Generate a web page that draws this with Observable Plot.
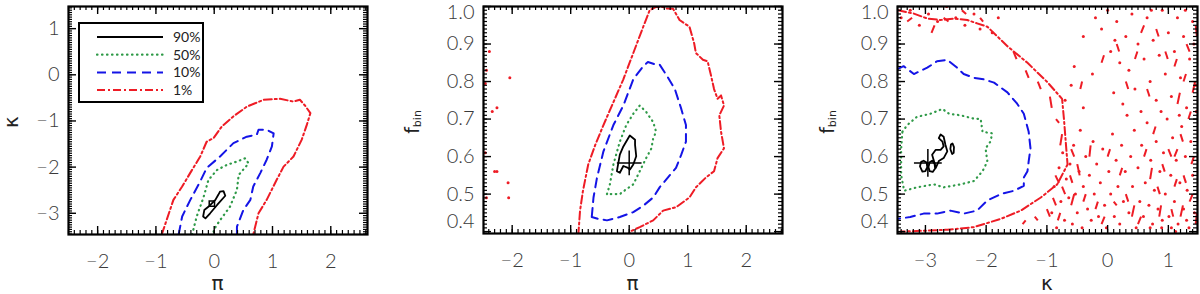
<!DOCTYPE html>
<html><head><meta charset="utf-8">
<script src="https://cdn.jsdelivr.net/npm/d3@7"></script>
<script src="https://cdn.jsdelivr.net/npm/@observablehq/plot@0.6"></script>
<style>
body{margin:0;background:#fff;}
#wrap{position:relative;width:1200px;height:294px;overflow:hidden;background:#fff;}
.panel{position:absolute;top:0;width:400px;height:294px;}
.ttl{position:absolute;font-family:"DejaVu Sans",sans-serif;color:#222;white-space:nowrap;line-height:1;}
</style></head>
<body><div id="wrap"></div>
<script>
// ---------- tick labels ----------
const piTicks = [-2, -1, 0, 1, 2];
const kappaTicks = [-3, -2, -1, 0, 1];
const fbinTicks = [0.4, 0.5, 0.6, 0.7, 0.8, 0.9, 1.0];
const legendLabels = ["90%", "50%", "10%", "1%"];

// ---------- panel 1 : pi vs kappa ----------
const p1_red = [[-0.90,-3.46],[-0.70,-2.71],[-0.55,-2.42],[-0.38,-2.06],[-0.24,-1.77],[-0.13,-1.45],[-0.01,-1.37],[0.13,-1.12],[0.33,-0.90],[0.56,-0.69],[0.85,-0.54],[1.13,-0.52],[1.36,-0.58],[1.47,-0.54],[1.56,-0.67],[1.65,-0.83],[1.59,-1.08],[1.50,-1.41],[1.36,-1.77],[1.19,-1.99],[1.07,-2.28],[0.90,-2.71],[0.76,-3.00],[0.67,-3.46]];
const p1_blue = [[-0.61,-3.46],[-0.55,-3.07],[-0.41,-2.71],[-0.24,-2.31],[-0.13,-2.02],[0.10,-1.77],[0.33,-1.48],[0.56,-1.34],[0.73,-1.30],[0.76,-1.19],[0.90,-1.19],[1.02,-1.27],[0.99,-1.55],[0.90,-1.84],[0.79,-2.13],[0.67,-2.42],[0.62,-2.71],[0.50,-2.93],[0.39,-3.29],[0.39,-3.46]];
const p1_green = [[-0.38,-3.46],[-0.30,-3.07],[-0.18,-2.64],[-0.10,-2.28],[0.05,-2.06],[0.22,-1.95],[0.39,-1.88],[0.53,-1.81],[0.59,-1.92],[0.42,-2.17],[0.39,-2.49],[0.27,-2.86],[0.10,-3.15],[-0.01,-3.36],[-0.01,-3.46]];
const p1_black = [[0.10,-2.53],[0.16,-2.52],[0.19,-2.62],[0.05,-2.82],[-0.07,-3.00],[-0.15,-3.11],[-0.19,-3.07],[-0.17,-2.93],[-0.10,-2.86],[0.02,-2.71],[0.07,-2.60],[0.10,-2.53]];
const p1_best = [[-0.04,-2.79]];

// ---------- panel 2 : pi vs f_bin ----------
const p2_red = [[-0.87,0.39],[-0.84,0.456],[-0.79,0.509],[-0.70,0.579],[-0.58,0.631],[-0.44,0.684],[-0.27,0.745],[-0.10,0.806],[0.07,0.876],[0.24,0.946],[0.35,0.99],[0.46,0.999],[0.58,0.999],[0.63,0.995],[0.75,0.994],[0.86,0.964],[1.03,0.946],[1.11,0.902],[1.14,0.876],[1.26,0.858],[1.34,0.854],[1.40,0.815],[1.45,0.78],[1.51,0.754],[1.57,0.763],[1.62,0.736],[1.54,0.71],[1.57,0.666],[1.62,0.622],[1.51,0.596],[1.45,0.561],[1.31,0.544],[1.14,0.518],[1.03,0.491],[0.80,0.465],[0.58,0.456],[0.41,0.43],[0.18,0.412],[0.01,0.40],[0.0,0.39]];
const p2_redDots = [[-2.44,0.83],[-2.39,0.88],[-2.46,0.795],[-2.34,0.72],[-2.26,0.73],[-2.04,0.81],[-2.30,0.56],[-2.26,0.56],[-2.44,0.49],[-2.07,0.53],[-2.06,0.49],[-2.46,0.61],[2.61,0.75]];
const p2_blue = [[-0.64,0.439],[-0.61,0.491],[-0.55,0.544],[-0.44,0.614],[-0.27,0.684],[-0.10,0.736],[0.07,0.806],[0.24,0.841],[0.32,0.852],[0.44,0.846],[0.52,0.845],[0.63,0.819],[0.78,0.78],[0.89,0.727],[0.97,0.684],[0.97,0.64],[0.89,0.605],[0.80,0.57],[0.66,0.544],[0.52,0.518],[0.41,0.491],[0.24,0.469],[0.07,0.452],[-0.16,0.439],[-0.38,0.43],[-0.53,0.434],[-0.64,0.439]];
const p2_green = [[-0.38,0.50],[-0.33,0.526],[-0.27,0.579],[-0.16,0.64],[-0.05,0.684],[0.07,0.714],[0.18,0.736],[0.29,0.719],[0.41,0.692],[0.46,0.666],[0.41,0.649],[0.38,0.622],[0.29,0.596],[0.18,0.561],[0.07,0.526],[-0.05,0.513],[-0.16,0.50],[-0.27,0.50],[-0.38,0.50]];
const p2_black = [[-0.19,0.579],[-0.21,0.561],[-0.16,0.557],[-0.10,0.575],[-0.02,0.57],[0.01,0.565],[0.07,0.579],[0.12,0.601],[0.10,0.631],[0.10,0.645],[0.01,0.656],[-0.05,0.64],[-0.10,0.627],[-0.16,0.605],[-0.19,0.579]];
const p2_best = [[0.0,0.583]];

// ---------- panel 3 : kappa vs f_bin ----------
const p3_red = [[-3.45,0.99],[-3.19,0.981],[-2.97,0.968],[-2.75,0.964],[-2.53,0.968],[-2.31,0.964],[-2.15,0.955],[-1.98,0.946],[-1.65,0.894],[-1.32,0.85],[-0.99,0.798],[-0.75,0.754],[-0.72,0.702],[-0.69,0.64],[-0.66,0.579],[-0.83,0.526],[-1.10,0.491],[-1.43,0.456],[-1.76,0.434],[-2.20,0.412],[-2.64,0.405],[-3.08,0.402],[-3.41,0.40]];
const p3_redDots = [[-0.92,0.45],[-0.88,0.52],[-0.84,0.41],[-0.80,0.57],[-0.77,0.48],[-0.74,0.61],[-0.71,0.43],[-0.68,0.54],[-0.64,0.49],[-0.62,0.58],[-0.58,0.42],[-0.56,0.63],[-0.53,0.50],[-0.50,0.45],[-0.47,0.56],[-0.45,0.67],[-0.42,0.41],[-0.40,0.52],[-0.36,0.60],[-0.33,0.46],[-0.30,0.55],[-0.27,0.43],[-0.24,0.64],[-0.22,0.50],[-0.18,0.58],[-0.15,0.44],[-0.12,0.53],[-0.08,0.62],[-0.05,0.47],[-0.02,0.41],[0.02,0.56],[0.05,0.50],[0.08,0.66],[0.11,0.44],[0.14,0.59],[0.17,0.52],[0.20,0.42],[0.23,0.63],[0.26,0.48],[0.29,0.56],[0.32,0.71],[0.35,0.45],[0.38,0.60],[0.41,0.52],[0.44,0.67],[0.47,0.41],[0.50,0.57],[0.53,0.48],[0.56,0.63],[0.59,0.44],[0.62,0.53],[0.65,0.69],[0.68,0.47],[0.71,0.59],[0.74,0.42],[0.77,0.51],[0.80,0.64],[0.83,0.46],[0.86,0.56],[0.89,0.41],[0.92,0.61],[0.95,0.50],[0.98,0.70],[1.01,0.44],[1.04,0.55],[1.07,0.65],[1.10,0.48],[1.13,0.59],[1.16,0.42],[1.19,0.53],[1.22,0.68],[1.25,0.46],[1.28,0.60],[1.31,0.51],[1.34,0.41],[1.37,0.64],[1.40,0.55],[1.43,0.45],[1.46,0.72],[1.12,0.40],[0.90,0.43],[1.30,0.43],[1.05,0.41],[0.70,0.41],
 [-0.70,0.75],[-0.60,0.79],[-0.55,0.84],[-0.40,0.73],[-0.25,0.82],[-0.10,0.94],[0.00,0.99],[0.05,0.88],[0.10,0.77],[0.15,0.96],[0.20,0.85],[0.25,0.74],[0.30,0.92],[0.35,0.83],[0.40,0.98],[0.45,0.78],[0.50,0.90],[0.55,0.72],[0.60,0.86],[0.65,0.97],[0.70,0.80],[0.75,0.91],[0.80,0.75],[0.85,0.87],[0.90,0.99],[0.95,0.82],[1.00,0.93],[1.05,0.76],[1.10,0.88],[1.15,0.97],[1.20,0.81],[1.25,0.92],[1.30,0.73],[1.35,0.86],[1.40,0.96],[1.45,0.79],[1.18,0.71],[0.88,0.72],[1.42,0.90],[0.72,0.99],[1.28,0.99],[-0.20,0.97],[0.12,0.91],[-0.40,0.92],
 [-3.40,0.97],[-3.25,0.99],[-3.10,0.95],[-2.95,0.98],[-2.80,0.96],[-2.65,1.00],[-2.50,0.97],[-2.35,0.95],[-2.20,0.98],[-2.10,0.94],[-1.90,0.93],[-1.80,0.97]];
const p3_redDashes = [[-0.86,0.55,-0.80,0.53],[-0.60,0.47,-0.55,0.50],[-0.30,0.60,-0.28,0.63],[0.10,0.48,0.15,0.47],[0.40,0.44,0.44,0.47],[0.60,0.60,0.64,0.62],[0.82,0.52,0.86,0.50],[1.00,0.62,1.05,0.60],[1.20,0.44,1.24,0.47],[1.38,0.58,1.42,0.60],[1.15,0.74,1.19,0.77],[0.95,0.88,0.99,0.86],[0.55,0.93,0.60,0.95],[0.30,0.80,0.34,0.78],[1.30,0.90,1.35,0.88],[-0.45,0.78,-0.42,0.80],[0.75,0.66,0.79,0.68],[1.40,0.77,1.44,0.80],[-3.30,0.96,-3.22,0.97],[-2.70,0.97,-2.62,0.96],[-2.40,0.99,-2.33,0.98],[0.20,0.55,0.24,0.57],[-0.10,0.42,-0.05,0.44],[1.10,0.52,1.14,0.54],
 [-1.55,0.88,-1.50,0.86],[-1.35,0.83,-1.30,0.81],[-1.15,0.80,-1.10,0.78],[-0.95,0.76,-0.92,0.73],[-0.85,0.70,-0.80,0.69],[-0.75,0.66,-0.78,0.63],[-0.60,0.62,-0.55,0.60],[-0.62,0.55,-0.58,0.53],[-0.75,0.52,-0.70,0.50],[-0.90,0.49,-0.85,0.47],[-1.00,0.46,-0.95,0.44],[-0.82,0.43,-0.78,0.45],[-1.20,0.44,-1.15,0.43],[-1.40,0.42,-1.35,0.43],[-0.50,0.58,-0.46,0.55],[-0.40,0.48,-0.36,0.50],[-0.20,0.46,-0.16,0.48],[0.00,0.60,0.04,0.62],[0.30,0.50,0.34,0.48],[0.50,0.42,0.55,0.44],[0.70,0.54,0.73,0.57],[0.90,0.58,0.94,0.56],[1.10,0.60,1.15,0.62],[1.25,0.55,1.29,0.53],[1.35,0.48,1.40,0.50],[1.45,0.42,1.47,0.45],[0.85,0.44,0.88,0.47],[1.05,0.46,1.08,0.44],[1.20,0.66,1.24,0.64],[1.33,0.70,1.37,0.72],[1.10,0.84,1.14,0.86],[0.80,0.94,0.84,0.92],[0.45,0.86,0.49,0.88],[0.15,0.90,0.19,0.88],[-0.10,0.85,-0.06,0.87],[1.45,0.95,1.47,0.92],[1.25,0.80,1.29,0.82],[0.65,0.78,0.69,0.76],[-2.90,0.93,-2.85,0.95],[-2.10,0.97,-2.05,0.96]];
const p3_blue = [[-3.46,0.833],[-3.36,0.841],[-3.19,0.82],[-2.97,0.837],[-2.81,0.854],[-2.64,0.858],[-2.48,0.837],[-2.37,0.82],[-2.20,0.81],[-2.04,0.806],[-1.87,0.797],[-1.65,0.771],[-1.49,0.741],[-1.38,0.714],[-1.30,0.666],[-1.27,0.622],[-1.30,0.587],[-1.32,0.561],[-1.38,0.544],[-1.38,0.522],[-1.54,0.509],[-1.76,0.50],[-1.98,0.483],[-2.15,0.456],[-2.37,0.448],[-2.59,0.456],[-2.81,0.448],[-3.03,0.448],[-3.25,0.439],[-3.46,0.434]];
const p3_green = [[-3.38,0.666],[-3.30,0.684],[-3.14,0.706],[-2.92,0.714],[-2.72,0.727],[-2.61,0.714],[-2.42,0.71],[-2.20,0.701],[-2.09,0.70],[-2.06,0.666],[-1.90,0.662],[-1.93,0.64],[-2.01,0.622],[-1.98,0.587],[-2.06,0.561],[-2.20,0.535],[-2.42,0.526],[-2.70,0.518],[-2.86,0.526],[-3.14,0.518],[-3.35,0.509],[-3.40,0.55],[-3.40,0.62],[-3.38,0.666]];
const p3_black1 = [[-2.86,0.588],[-2.89,0.605],[-2.83,0.618],[-2.75,0.618],[-2.70,0.627],[-2.72,0.64],[-2.78,0.649],[-2.75,0.659],[-2.70,0.653],[-2.67,0.631],[-2.64,0.614],[-2.70,0.596],[-2.78,0.588],[-2.83,0.57],[-2.86,0.588]];
const p3_black2 = [[-3.09,0.574],[-3.07,0.586],[-3.03,0.589],[-2.98,0.584],[-2.97,0.572],[-3.00,0.561],[-3.05,0.56],[-3.09,0.574]];
const p3_black3 = [[-2.95,0.572],[-2.93,0.585],[-2.89,0.589],[-2.85,0.582],[-2.84,0.568],[-2.88,0.559],[-2.93,0.561],[-2.95,0.572]];
const p3_black4 = [[-2.59,0.62],[-2.58,0.632],[-2.555,0.635],[-2.53,0.625],[-2.535,0.61],[-2.56,0.607],[-2.59,0.62]];
const p3_best = [[-2.96,0.583]];

// ---------- styles ----------
const styles = {
  black: {stroke: "#000", strokeWidth: 1.8},
  green: {stroke: "#2f9a48", strokeWidth: 2.2, strokeDasharray: "0.5,4.5", strokeLinecap: "round"},
  blue:  {stroke: "#1414e6", strokeWidth: 2, strokeDasharray: "9,6"},
  red:   {stroke: "#ee1c25", strokeWidth: 2, strokeDasharray: "8,3,2,3"}
};
const FONT = "Lato, 'Liberation Sans', 'DejaVu Sans', sans-serif";

const W = 400, H = 294;
const fmtInt = d3.format("d"), fmt1 = d3.format(".1f");

const panels = [
  {left: 0, mL: 68, mR: 33, mT: 6, mB: 60, xd: [-2.5, 2.63], yd: [-3.46, 1.48],
   xMaj: piTicks, yMaj: kappaTicks, xStep: 0.1, yStep: 0.05, xFmt: fmtInt, yFmt: fmtInt,
   lines: [[p1_red, "red"], [p1_blue, "blue"], [p1_green, "green"], [p1_black, "black"]],
   dots: [], dashes: [], best: p1_best, bestSym: "square", bestR: 3},
  {left: 400, mL: 83, mR: 18, mT: 6, mB: 61, xd: [-2.49, 2.62], yd: [0.395, 1.0],
   xMaj: piTicks, yMaj: fbinTicks, xStep: 0.1, yStep: 0.01, xFmt: fmtInt, yFmt: fmt1,
   lines: [[p2_red, "red"], [p2_blue, "blue"], [p2_green, "green"], [p2_black, "black"]],
   dots: p2_redDots, dashes: [], best: p2_best, bestSym: "plus", bestR: 8},
  {left: 800, mL: 97, mR: 3, mT: 6, mB: 61, xd: [-3.46, 1.48], yd: [0.395, 1.0],
   xMaj: kappaTicks, yMaj: fbinTicks, xStep: 0.1, yStep: 0.01, xFmt: fmtInt, yFmt: fmt1,
   lines: [[p3_red, "red"], [p3_blue, "blue"], [p3_green, "green"], [p3_black1, "black"], [p3_black2, "black"], [p3_black3, "black"], [p3_black4, "black"]],
   dots: p3_redDots, dashes: p3_redDashes, best: p3_best, bestSym: "plus", bestR: 9}
];

function minor(domain, step) {
  const lo = Math.ceil(domain[0] / step - 1e-9), hi = Math.floor(domain[1] / step + 1e-9);
  return d3.range(lo, hi + 1).map(i => +(i * step).toFixed(4));
}

function makePanel(c) {
  const fw = W - c.mL - c.mR, fh = H - c.mT - c.mB;
  const marks = [];
  if (c.dots.length) marks.push(Plot.dot(c.dots, {x: d => d[0], y: d => d[1], r: 1.5, fill: styles.red.stroke, stroke: "none", clip: true}));
  if (c.dashes.length) marks.push(Plot.link(c.dashes, {x1: d => d[0], y1: d => d[1], x2: d => d[2], y2: d => d[3], stroke: styles.red.stroke, strokeWidth: 2, clip: true}));
  for (const [data, st] of c.lines) marks.push(Plot.line(data, {x: d => d[0], y: d => d[1], ...styles[st], clip: true}));
  marks.push(Plot.dot(c.best, {x: d => d[0], y: d => d[1], symbol: c.bestSym, r: c.bestR, stroke: "#000", strokeWidth: 1.5, fill: "none"}));
  const xMin = minor(c.xd, c.xStep), yMin = minor(c.yd, c.yStep);
  const tickX = (vals, len, sw) => [
    Plot.tickX(vals, {x: d => d, insetTop: fh - len, stroke: "#000", strokeWidth: sw}),
    Plot.tickX(vals, {x: d => d, insetBottom: fh - len, stroke: "#000", strokeWidth: sw})];
  const tickY = (vals, len, sw) => [
    Plot.tickY(vals, {y: d => d, insetRight: fw - len, stroke: "#000", strokeWidth: sw}),
    Plot.tickY(vals, {y: d => d, insetLeft: fw - len, stroke: "#000", strokeWidth: sw})];
  marks.push(...tickX(xMin, 4, 1.2), ...tickX(c.xMaj, 8, 1.4), ...tickY(yMin, 4, 1.2), ...tickY(c.yMaj, 8, 1.4));
  marks.push(Plot.frame({stroke: "#000", strokeWidth: 2.2}));
  marks.push(Plot.axisX(c.xMaj, {tickSize: 0, tickPadding: 19, fontSize: 20, fontWeight: 300, tickFormat: c.xFmt, label: null}));
  // y tick labels; end labels nudged inside like the reference
  const yd = c.yd;
  const edgeTop = c.yMaj.filter(v => Math.abs(v - yd[1]) < 0.02 * (yd[1] - yd[0]));
  const edgeBot = c.yMaj.filter(v => Math.abs(v - yd[0]) < 0.02 * (yd[1] - yd[0]));
  const mid = c.yMaj.filter(v => !edgeTop.includes(v) && !edgeBot.includes(v));
  const yOpts = {tickSize: 0, tickPadding: 9, fontSize: 20, fontWeight: 300, tickFormat: c.yFmt, label: null};
  marks.push(Plot.axisY(mid, yOpts));
  if (edgeTop.length) marks.push(Plot.axisY(edgeTop, {...yOpts, dy: 6}));
  if (edgeBot.length) marks.push(Plot.axisY(edgeBot, {...yOpts, dy: -10}));
  return Plot.plot({
    width: W, height: H, marginLeft: c.mL, marginRight: c.mR, marginTop: c.mT, marginBottom: c.mB,
    x: {domain: c.xd}, y: {domain: c.yd},
    style: {fontFamily: FONT, color: "#3a3a3a", background: "transparent", overflow: "visible"},
    marks
  });
}

const wrap = document.getElementById("wrap");
function addTitle(parent, html, x, y, rot, size) {
  const s = document.createElement("div");
  s.className = "ttl";
  s.innerHTML = html;
  s.style.left = x + "px"; s.style.top = y + "px"; s.style.fontSize = size + "px";
  s.style.transform = `translate(-50%,-50%) rotate(${rot}deg)`;
  parent.appendChild(s);
}
const xTitles = ["π", "π", "κ"];
const yTitles = ["κ", "f<sub style='font-size:11px;vertical-align:-2px'>bin</sub>", "f<sub style='font-size:11px;vertical-align:-2px'>bin</sub>"];
const yTitleX = [11, 13, 28];
panels.forEach((c, i) => {
  const div = document.createElement("div");
  div.className = "panel";
  div.style.left = c.left + "px";
  div.appendChild(makePanel(c));
  wrap.appendChild(div);
  const cx = c.mL + (W - c.mL - c.mR) / 2;
  addTitle(div, xTitles[i], cx, 283, 0, 20);
  addTitle(div, yTitles[i], yTitleX[i], 122, -90, i === 0 ? 20 : 19);
});

// ---------- legend (panel 1) ----------
const legendStyles = ["black", "green", "blue", "red"];
const ns = "http://www.w3.org/2000/svg";
const lg = document.createElementNS(ns, "svg");
lg.setAttribute("width", 126); lg.setAttribute("height", 81);
lg.style.position = "absolute"; lg.style.left = "78px"; lg.style.top = "22px";
const box = document.createElementNS(ns, "rect");
box.setAttribute("x", 1); box.setAttribute("y", 1); box.setAttribute("width", 124); box.setAttribute("height", 79);
box.setAttribute("fill", "white"); box.setAttribute("stroke", "#000"); box.setAttribute("stroke-width", 2);
lg.appendChild(box);
legendLabels.forEach((lab, i) => {
  const st = styles[legendStyles[i]];
  const yy = 15 + i * 17.7;
  const ln = document.createElementNS(ns, "line");
  ln.setAttribute("x1", 19); ln.setAttribute("x2", 85); ln.setAttribute("y1", yy); ln.setAttribute("y2", yy);
  ln.setAttribute("stroke", st.stroke); ln.setAttribute("stroke-width", st.strokeWidth);
  if (st.strokeDasharray) ln.setAttribute("stroke-dasharray", st.strokeDasharray);
  if (st.strokeLinecap) ln.setAttribute("stroke-linecap", st.strokeLinecap);
  lg.appendChild(ln);
  const t = document.createElementNS(ns, "text");
  t.setAttribute("x", 95); t.setAttribute("y", yy); t.setAttribute("dy", "0.35em");
  t.setAttribute("font-size", 14); t.setAttribute("font-family", FONT);
  t.setAttribute("fill", "#222");
  t.textContent = lab;
  lg.appendChild(t);
});
wrap.children[0].appendChild(lg);
</script>
</body></html>
